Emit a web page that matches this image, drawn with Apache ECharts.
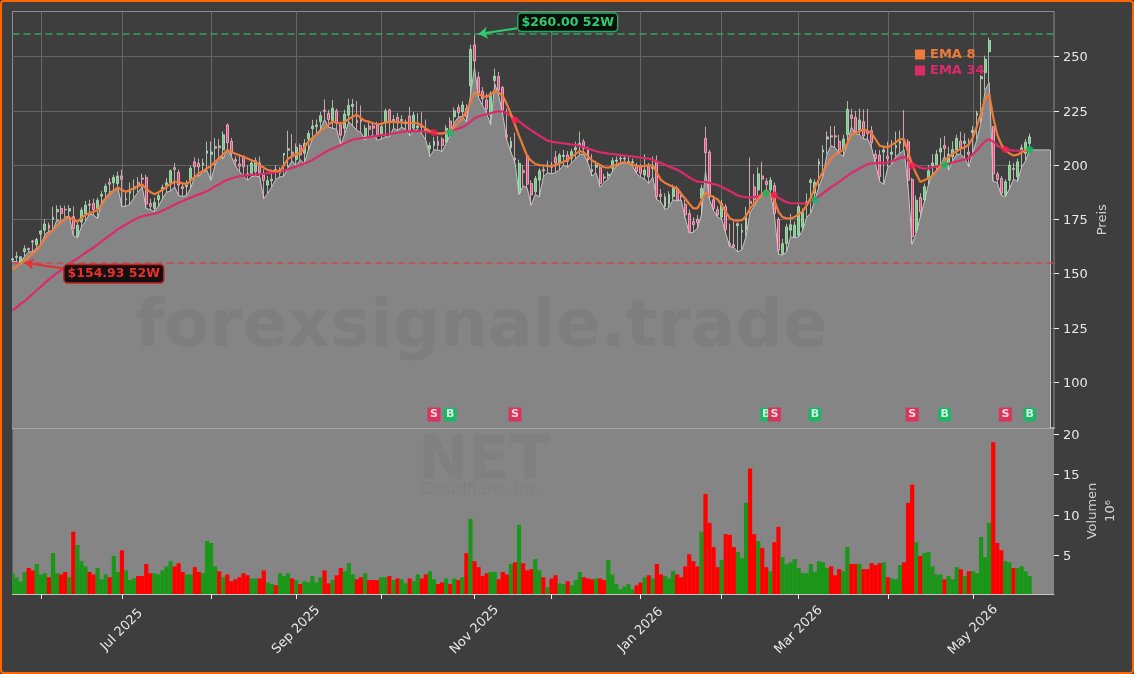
<!DOCTYPE html>
<html>
<head>
<meta charset="utf-8">
<title>NET</title>
<script src="https://cdn.jsdelivr.net/npm/echarts@6/dist/echarts.min.js"></script>
<style>
    html, body { margin: 0; padding: 0; background: #fff; }
    #chart { position: absolute; left: 0; top: 0; width: 1134px; height: 674px; background: #3e3e3e; }
    #frame { position: absolute; left: 0; top: 0; width: 1134px; height: 674px; box-sizing: border-box;
             border: 2px solid #ff6600; border-radius: 4px; pointer-events: none; }
</style>
</head>
<body>
<div id="chart"></div>
<div id="frame"></div>
<script>
// daily candles, one trading day per index
const opens = [
    156.2,157.5,155.2,160.1,161.5,165,163.2,168.3,170,172.3,
    175,178.5,180,179.6,178.8,176.2,167.2,173.8,177.7,182,
    182.3,180,185.7,187.7,192,191.8,191.5,195,184,187,
    189,192,194,194.3,182.3,180,184,188.5,190.6,191.8,
    198.8,196.6,190,190,193,201.5,200.8,200,205.5,205,
    207.8,208.8,207,218.5,211,202.5,200.5,203.5,196,196.2,
    197,201,195.4,190.8,192.8,198,196.2,204.6,206.8,206,
    202.6,209,205.4,212,216.8,217.8,220,225.3,223.8,220.5,
    225,218.5,217,223,227,220.5,221,213,218,218,
    218.5,214.3,220,225.4,220.5,222,220.5,219,222.6,217,
    217.3,218.5,216.5,207.5,209,211,212,211,220.3,222.3,
    226.6,224.6,226,236.5,255.4,240.5,234,230,223,239,
    240.8,235.8,214,208,203.3,187.2,197.5,204.3,191.5,187.7,
    193,198,199.5,200,203.5,200.8,204,204.6,203,207,
    209,210.8,207.7,198,199,198.8,194.5,195,198.5,201.8,
    202.8,202.8,201,201,200,199.2,195.4,200,198.5,201.5,
    186.5,180.8,182,185.4,189.2,186,182,177.7,174,175,
    184.6,212.3,206,184,179.5,176,180.8,164,163.3,172,
    169,170,183.3,190,188.5,195,192.5,188.5,190.5,175,
    159.2,163.8,170,167,167.7,171.5,182,192,187,200.5,
    206,212,213.5,213.5,211,207,214,223,222,216,
    220,215.5,215.8,205,204.6,206,204,205,208,210,
    210,210.8,193.4,170,185,184,193.8,199.5,200,206,
    209,200.8,203.8,207,211,210,206,215,223,239.8,
    242.6,252.3,217.7,195.8,193.8,186.2,193,198.5,194.6,207,205.4,210
];
const closes = [
    156.8,158,157.7,161.4,161,164.5,165.7,169.6,172.8,170.8,
    176,179.5,177.7,179.4,180,170.8,172.3,179.2,181.5,181.5,
    179.5,183.8,186.4,190.3,191.2,194.3,195,193.5,184.5,188,
    190,190,193.5,182,181,182.8,186,189.7,191.8,197.4,
    198,190.8,189.2,190.7,198.5,199.2,199.2,201,206.5,206,
    208.5,208,214,210.3,205.4,201.8,199.5,199.2,195.5,201,
    202,196.5,193,192.8,193.5,197.5,196.9,205.4,207.5,205,
    208.2,204.6,210,214.6,218,218.5,222.8,224.8,221,226.2,
    219.5,213.8,223.5,227.5,228,219.5,220,217,216.5,217,
    214,217.7,225,219.5,221,219.5,221,219.5,215.4,223,
    218,217.5,215.5,209,211,209,209,217,216,225,
    224.2,227.7,222.3,253.4,248,233.4,230.5,225.8,233,241,
    234.6,225.4,213,211,202.3,200.8,196.5,191.2,186.2,193.8,
    197.4,197.3,200,199,201,204.6,204.5,201.8,206.2,208,
    210,207.7,202.3,197,200,191.5,194,195.8,202,202.3,
    203.2,203.2,201.6,201.5,197,196.2,197.7,194.6,199,185.4,
    185.5,185.4,186.5,189.2,183.8,185.4,177,169.2,172.5,173.4,
    189.2,205.7,185.4,180,177,182.3,170.3,163,162.3,173,
    170,177,182.3,184,196,193.5,191,193,177.7,160.8,
    163.8,171.5,172.5,172.3,180.8,178.5,183,193,192,201.5,
    207,213,213,213,207,212,225.7,221.5,215.4,220.8,
    213.4,214.6,210.3,203,194.6,207,203,206,209,211,
    209,193,167,183.8,178.5,190,197.4,201,205,207.7,
    207.7,205,207.2,212.3,208,211,205,216,224,240.8,
    248.8,257.4,196,193.4,187,192.3,200,198,201.5,208,210.5,213
];
const highs = [
    157,160,158,163,162,165.5,166.5,170,175,173.5,
    180.8,181.5,181.5,181.3,181.5,181,173.5,180.5,183.5,184,
    184.5,185,188,191.5,194,195.5,197,198,188,192,
    193.5,194.5,196,195.5,184.5,185,188,191,194,198,
    201,198,192,193,199.5,203.5,203,203,210.8,211,
    212.5,212,215.5,219.2,212.5,204,205,204.5,200,202.8,
    203.5,204,198,195,197.7,200,199,205.5,215.8,214.3,
    210,210,212,216,220.8,221,224.5,230.3,225.5,230,
    226,220,225.5,230.5,230.5,229.5,227.5,218.5,219.5,219.5,
    220,219,226,226,223,224,223,221,226.9,224.5,
    224,224.5,221,210.5,213,213.5,213,218.5,222,226.5,
    228,229.5,228,255.5,260,243,236,233,234,244.5,
    243,236.5,226,213,215,202.5,200,205,193,195,
    198.5,199.5,202,201.5,206.5,205.5,207,206.5,207.5,210.8,
    215.4,212,208.5,205,202,200,196,197,203.5,204,
    205,204.5,204,203,201,200.5,205,201,204,204.5,
    189,187,188,191,190.5,188,184,179.5,176,177,
    191,217.7,207,186,181,184,182,173,174,173.5,
    173,180.8,203.5,196,199,201.5,194,194.5,192,176,
    166,173,177.5,174,182,180,187,194,193.5,203,
    209,215.5,218,218,214,214,229.5,226,225,226,
    225.7,226,218,207,207,208.5,210.8,211.5,215.4,216,
    225.4,212,194,186,187,191.5,200,205,207,212.5,
    213.5,208.5,211,214,215.4,214.6,212.3,218,225,241.5,
    250.5,258.7,218,197,195,193.5,202,201,203,209.5,212,214.5
];
const lows = [
    155.5,155.4,154.93,158,160,160,162,163,168,169.5,
    170,175,173.5,176,176.5,167.5,166.5,171.5,174,177.5,
    177,175.4,183,185,187.5,188.5,189.5,181,181,182,
    185,187.5,190,180,179.5,178.5,181,184.5,187.5,188,
    190,186,185.5,186,189.5,195,195,197,197.5,193,
    200,204,203,207,204,199.8,197,195,193,194.7,
    195,194.5,184.5,187,190,193.5,194.5,195,199,202,
    199.5,202.5,200.7,207,212,214.6,216.5,221,217.5,217,
    216.5,209,214.5,220,218,216,215,211.5,213,214,
    211.5,212,213,213,217,216,217.5,216.5,213.5,216,
    216.5,214.5,211.5,204,207,207,206.2,210,214,219.5,
    222,222.5,220,232,245,231,227.5,224,218.5,237.5,
    232,223,211.5,206,201,186.5,190.5,189.5,181.5,186.5,
    185.4,194.5,196.5,196,196.5,198,200,199,201,203,
    205,205,201,195,196.5,190,192,193.5,197,199.5,
    200.5,201,200.5,199.5,196,194.5,193.5,191.5,194.5,184,
    183,179.5,180.5,184,183.5,184,175.5,168.7,169,171,
    177,197,184,179,176,175,168.5,162.5,162,160,
    161,167,178,181,184,186,187.5,187,177,158.9,
    158.5,160,167,166.5,167,170,176,178,184,190,
    195,205,209,208,205.4,204,209.5,217.5,214.5,214,
    212,212,208,200,192.5,191,199,200.5,204,205.5,
    207,190,163.5,168.7,176,183,191,196,197.5,200,
    204,197.7,202,205,205,203,199.2,206,212,219.5,
    234.6,238,192.5,192,186,185.5,189,193.5,192.5,199,202,207
];
// volume in millions
const volumes = [
    2.75,2.2,1.7,2.9,3.4,3.1,3.9,2.6,2.75,2.25,
    5.25,2.75,2.6,2.9,2.25,7.9,6.25,4.25,3.6,2.9,
    2.6,3.4,2.0,2.6,2.25,4.9,2.9,5.6,3.1,1.9,
    2.1,2.4,2.4,3.9,2.75,2.75,2.6,3.1,3.6,4.25,
    3.6,4.0,2.9,2.6,2.6,3.5,2.9,2.75,6.75,6.5,
    3.6,3.0,2.25,2.6,1.75,2.0,2.25,2.75,2.5,2.1,
    2.1,2.1,3.1,1.6,1.4,1.25,2.75,2.4,2.75,2.1,
    1.9,1.4,1.75,1.6,2.4,1.6,2.25,3.1,1.5,1.9,
    2.5,3.4,3.0,4.0,2.6,2.0,2.25,2.75,1.9,1.9,
    1.9,2.25,2.25,2.4,1.9,2.1,2.0,1.5,2.1,1.75,
    2.6,2.1,2.6,3.0,2.0,1.4,1.6,2.1,1.4,2.1,
    1.9,2.25,5.25,9.5,4.25,3.5,2.4,2.75,2.9,2.9,
    2.0,2.9,2.6,3.9,4.1,8.75,4.0,3.1,3.25,4.5,
    3.1,2.25,1.0,2.1,2.5,1.5,1.4,1.75,1.25,1.9,
    2.9,2.25,2.1,2.0,2.1,2.1,1.9,4.4,2.6,1.4,
    0.75,1.1,1.4,0.75,1.25,1.6,2.25,2.5,2.1,3.9,
    2.6,2.4,2.1,3.0,2.6,2.25,3.6,5.1,4.25,3.6,
    7.9,12.6,9.0,6.0,3.5,4.4,7.6,7.5,6.0,5.4,
    4.6,11.5,15.75,7.6,6.75,5.9,3.5,3.0,6.6,8.5,
    4.75,3.9,4.1,4.5,3.4,2.75,2.75,3.9,2.9,4.25,
    4.1,3.4,3.6,2.5,3.25,3.0,6.0,3.9,3.9,3.9,
    3.25,3.25,4.0,3.75,4.0,4.1,2.25,2.1,2.0,3.75,
    4.1,11.5,13.75,6.6,4.9,5.25,5.4,3.6,2.6,2.6,
    2.0,2.4,2.0,3.5,3.25,2.4,3.0,3.0,2.75,7.25,
    4.75,9.0,19,6.5,5.6,4.25,4.1,3.4,3.4,3.6,3.0,2.4
];
const ema8 = [
    151.8,153.2,154.6,156.2,157.7,159.3,160.8,163.5,166.2,168.2,
    170,172,173.9,175.2,175.9,174.8,173.9,175.5,177,177.8,
    178.5,179.2,181.8,184.6,186.5,188.2,189.7,188.5,187.7,188.5,
    189.4,190.2,191,189,187.6,186.6,187.5,188.5,190,191.3,
    192.3,192,191.6,191.2,193,194.6,196.2,197.3,198.5,199.7,
    201.5,203.2,205,206.9,206.2,205.2,204.5,203.8,203,202.2,
    201.5,200,198.8,197.7,197.4,197.2,197.2,200,203,204,
    205,205.7,208,210.8,212.5,214,215.6,217,218.7,220,
    219.5,219,220,221.2,222.4,223.2,221.6,220.4,220,219.3,
    218.8,219,219.6,220,219.9,219.8,219.7,219.6,219.5,219.4,
    219.3,218.2,216.8,215.7,215,214.6,214.5,215,215.7,217.5,
    219.7,221.5,225,229,233.4,232.8,231.8,231.5,232.5,234.2,
    233.4,231.9,228,223.5,218.5,213.5,208.8,204.2,202,200.5,
    200,199.8,199.6,199.5,200,200.8,201.5,202.5,203.8,205.2,
    206.5,205.8,204,202.2,201,200,199,198.8,199.4,200.2,
    201,201.3,200.8,200.2,199.6,199.4,199.6,199.8,199.9,196.5,
    193.2,191.8,190.8,190,189.2,186.8,184.5,182.2,180,180,
    183.5,187.2,186.2,185.2,184.2,181.5,178.5,175.5,174.5,174.4,
    174.6,176.5,180,182.2,184.5,186.5,188.5,186.5,183.8,178.5,
    176,175.5,175.4,176,177.4,178.7,181.5,185,189.5,193.5,
    197,200,203,204.9,205.9,206.9,210,213.8,214.8,215.6,
    216.4,215.8,214.6,211.8,208.9,208.5,208.2,209.3,210.6,211.9,
    212,206,200.3,196,192.2,193,194,195,197.2,199.7,
    202,203.8,205.2,206.4,207.6,208.2,209.5,212.8,218,224,
    230.5,232.8,222,214,209.5,206.8,205.4,204.4,204.8,205.8,206.9,207.5
];
const ema34 = [
    133,134.4,136,137.3,139,140.7,142.3,144,145.7,147.3,
    148.8,150.2,151.6,153,154.5,155.8,157,158.3,159.6,160.8,
    162,163.3,164.8,166.2,167.6,169,170.5,171.6,172.6,173.7,
    174.8,175.7,176.4,176.8,177.2,177.6,178.1,179,179.9,180.8,
    181.7,182.6,183.4,184.2,185,185.8,186.5,187.2,188,189,
    190.2,191.2,192.4,193.2,193.8,194.4,194.9,195.1,195.3,195.5,
    195.7,195.8,196,196.3,196.5,196.7,196.9,197.5,198.1,198.7,
    199.4,200,200.7,201.4,202.4,203.5,204.6,205.7,206.8,207.6,
    208.4,209.3,210.1,211,211.8,212.1,212.4,212.6,212.9,213.2,
    213.5,213.8,214,214.3,214.6,214.9,215.3,215.5,215.6,215.7,
    215.8,215.6,215.3,215.1,214.9,214.7,214.7,215.2,215.7,216.2,
    216.8,217.5,218.5,220,221.6,222.4,223,223.4,223.9,224.4,
    224.8,224.7,223.9,222.6,221.5,220.1,218.7,217.3,216,214.8,
    213.6,212.5,211.3,210.8,210.5,210.3,210,209.8,209.5,209.3,
    208.8,208.2,207.6,207,206.4,205.9,205.6,205.3,205.1,204.9,
    204.6,204.4,204.2,204,203.7,203.5,203.2,203,202.4,201.6,
    200.9,200.2,199.4,198.6,197.9,196.8,195.6,194.4,193.2,192.4,
    192.2,192.3,191.8,191.2,190.8,190,189,188,187,186,
    185.5,185.2,185,185.3,185.6,186.5,187.7,187,185.8,184.9,
    183.9,182.9,182.5,182.4,182.3,182.3,182.4,183.2,184.2,185.6,
    187,188.4,189.8,191,192.3,193.6,195,196.4,197.4,198.4,
    199.4,200.4,200.8,200.9,201,201,201.2,201.8,202.5,203.2,
    203.8,202.3,200.8,199.8,198.8,198.4,198.6,199,199.4,199.8,
    200.2,200.7,201.2,201.7,202.2,202.6,203.2,205,207,209,
    211,212,210.8,209,208,207.4,207,206.7,206.6,206.6,206.6,206.6
];
// area runs on flat past the last candle
const areaTail = [207, 207, 207, 207, 207];

const monthTickIndex = [7, 27, 49, 70, 91, 114, 133, 155, 175, 194, 216, 237];
const monthTickLabels = ['', 'Jul 2025', '', 'Sep 2025', '', 'Nov 2025', '', 'Jan 2026', '', 'Mar 2026', '', 'May 2026'];
const priceTicks = [100, 125, 150, 175, 200, 225, 250];
const volumeTicks = [5, 10, 15, 20];

const sellIndex = [104, 124, 188, 222, 245];
const sellPrice = [215, 220.8, 186.2, 199.7, 207.2];
const buyIndex = [108, 186, 198, 230, 251];
const buyPrice = [215, 187, 184, 200.2, 207.2];
const signalRowPrice = 85;

const high52w = 260.4;
const low52w = 154.93;
const high52wIndex = 114;
const low52wIndex = 2;

const bgColor = '#3e3e3e';
const areaColor = '#858585';
const gridColor = '#666666';
const textColor = '#e8e8e8';
const fontMain = '"DejaVu Sans", sans-serif';
const orange = '#f07a3a';
const pink = '#dc2a6a';
const sellColor = '#ee1f50';
const buyColor = '#05c05f';

const categoryCount = 258;
const categories = Array.from({ length: categoryCount }, (_, i) => {
    const pos = monthTickIndex.indexOf(i);
    return pos >= 0 ? monthTickLabels[pos] : '';
});

const isMonthTick = (index) => monthTickIndex.includes(index);
const isMonthLabel = (index, value) => value !== '';

const priceMin = 78.8;
const priceMax = 270.8;

// y tick text sits a touch lower than ECharts centres it
const yTickLabel = (ticks) => ({
    customValues: ticks,
    margin: 9,
    formatter: '{t|{value}}',
    rich: { t: { color: textColor, fontSize: 13, fontFamily: fontMain, padding: [3, 0, 0, 0] } }
});

const chart = echarts.init(document.getElementById('chart'));

chart.setOption({
    animation: false,
    backgroundColor: bgColor,
    textStyle: { fontFamily: fontMain },

    legend: {
        left: 915,
        top: 48,
        orient: 'vertical',
        icon: 'rect',
        itemWidth: 10,
        itemHeight: 10,
        itemGap: 3,
        padding: 0,
        selectedMode: false,
        data: [
            { name: 'EMA 8', textStyle: { color: orange, fontWeight: 'bold', fontSize: 13 } },
            { name: 'EMA 34', textStyle: { color: pink, fontWeight: 'bold', fontSize: 13 } }
        ]
    },

    grid: [
        { left: 12.5, top: 11.5, width: 1041.5, height: 416.5, show: true, borderColor: '#8c8c8c', borderWidth: 1, backgroundColor: 'transparent' },
        { left: 12.5, top: 428, width: 1041.5, height: 166, show: true, borderColor: areaColor, borderWidth: 0, backgroundColor: areaColor }
    ],

    xAxis: [
        {
            type: 'category',
            gridIndex: 0,
            data: categories,
            boundaryGap: false,
            axisLine: { show: true, lineStyle: { color: '#a8a8a8', width: 2 } },
            axisTick: { show: false },
            axisLabel: { show: false },
            splitLine: { show: true, interval: isMonthTick, lineStyle: { color: gridColor, width: 1 } }
        },
        {
            type: 'category',
            gridIndex: 1,
            data: categories,
            boundaryGap: false,
            axisLine: { show: true, lineStyle: { color: '#c4c4c4', width: 1 } },
            axisTick: { show: true, interval: isMonthTick, length: 5, lineStyle: { color: '#eeeeee', width: 1 } },
            axisLabel: {
                interval: isMonthLabel,
                rotate: 45,
                align: 'center',
                verticalAlign: 'middle',
                margin: 36,
                color: textColor,
                fontSize: 13,
                fontFamily: fontMain
            },
            splitLine: { show: false }
        }
    ],

    yAxis: [
        {
            type: 'value',
            gridIndex: 0,
            position: 'right',
            min: priceMin,
            max: priceMax,
            name: 'Preis',
            nameLocation: 'middle',
            nameRotate: 90,
            nameGap: 42,
            nameMoveOverlap: false,
            nameTextStyle: { color: '#d0d0d0', fontSize: 13, fontFamily: fontMain },
            axisLine: { show: false },
            axisTick: { show: true, length: 5, customValues: priceTicks, lineStyle: { color: '#eeeeee' } },
            axisLabel: yTickLabel(priceTicks),
            splitLine: { show: true, lineStyle: { color: gridColor, width: 1 } }
        },
        {
            type: 'value',
            gridIndex: 1,
            position: 'right',
            min: 0.17,
            max: 20.78,
            name: 'Volumen\n10⁶',
            nameLocation: 'middle',
            nameRotate: 90,
            nameGap: 30,
            nameMoveOverlap: false,
            nameTextStyle: { color: '#d0d0d0', fontSize: 13, lineHeight: 18, fontFamily: fontMain },
            axisLine: { show: false },
            axisTick: { show: true, length: 5, customValues: volumeTicks, lineStyle: { color: '#eeeeee' } },
            axisLabel: yTickLabel(volumeTicks),
            splitLine: { show: false }
        }
    ],

    graphic: [
        { type: 'text', left: 135, top: 295, z: 2, silent: true, style: { text: 'forexsignale.trade', fill: 'rgba(0,0,0,0.05)', font: 'bold 66.5px "DejaVu Sans"' } },
        { type: 'text', left: 418, top: 433, z: 2, silent: true, style: { text: 'NET', fill: 'rgba(0,0,0,0.035)', font: 'bold 60px "DejaVu Sans"' } },
        { type: 'text', left: 420, top: 482, z: 2, silent: true, style: { text: 'Cloudflare, Inc.', fill: 'rgba(0,0,0,0.04)', font: '16.4px "DejaVu Sans"' } },
        // the first bar and candle are cut at the panel edge
        { type: 'rect', left: 9.5, top: 300, z: 100, silent: true, shape: { width: 2.5, height: 294 }, style: { fill: bgColor } }
    ],

    series: [
        {
            name: 'Tief',
            type: 'line',
            xAxisIndex: 0,
            yAxisIndex: 0,
            z: 1,
            data: lows.concat(areaTail),
            symbol: 'none',
            lineStyle: { color: '#c6c6c6', width: 1 },
            areaStyle: { color: areaColor, opacity: 1, origin: 'start' },
            markLine: {
                silent: true,
                symbol: 'none',
                label: { show: false },
                lineStyle: { color: '#c6c6c6', width: 1, type: 'solid' },
                data: [[{ coord: [256, areaTail[0]] }, { coord: [256, priceMin] }]]
            }
        },
        {
            name: 'Kurs',
            type: 'candlestick',
            xAxisIndex: 0,
            yAxisIndex: 0,
            z: 3,
            barWidth: 2.4,
            data: opens.map((o, i) => [o, closes[i], lows[i], highs[i]]),
            itemStyle: {
                color: '#63d97a',
                color0: '#f4477e',
                borderColor: '#c2dcc6',
                borderColor0: '#e8c0cc',
                borderWidth: 0.8
            },
            markLine: {
                silent: true,
                symbol: 'none',
                label: { show: false },
                data: [
                    { yAxis: high52w, lineStyle: { color: '#34a35e', width: 1.5, type: [7, 4] } },
                    { yAxis: low52w, lineStyle: { color: '#c84a4a', width: 1.5, type: [7, 4] } },
                    [
                        { coord: [125, 263.2], symbol: 'none', lineStyle: { color: '#2ecc71', width: 2, type: 'solid' } },
                        { coord: [high52wIndex + 1, high52w], symbol: 'arrow', symbolSize: 9 }
                    ],
                    [
                        { coord: [13, 152.2], symbol: 'none', lineStyle: { color: '#e8302e', width: 2, type: 'solid' } },
                        { coord: [low52wIndex + 1, low52w], symbol: 'arrow', symbolSize: 9 }
                    ]
                ]
            },
            markPoint: {
                silent: true,
                symbolSize: 0,
                data: [
                    {
                        coord: [137, 265.8],
                        label: {
                            show: true, position: 'inside', formatter: '$260.00 52W',
                            color: '#2ecc71', fontWeight: 'bold', fontSize: 12.5, fontFamily: fontMain,
                            backgroundColor: '#0b0f0c', borderColor: '#27a860', borderWidth: 1.5, borderRadius: 3,
                            padding: [2, 3, 2, 3]
                        }
                    },
                    {
                        coord: [25, 149.9],
                        label: {
                            show: true, position: 'inside', formatter: '$154.93 52W',
                            color: '#e8302e', fontWeight: 'bold', fontSize: 12.5, fontFamily: fontMain,
                            backgroundColor: '#141010', borderColor: '#c42222', borderWidth: 1.5, borderRadius: 3,
                            padding: [2, 3, 2, 3]
                        }
                    }
                ]
            }
        },
        {
            name: 'EMA 34',
            type: 'line',
            xAxisIndex: 0,
            yAxisIndex: 0,
            z: 4,
            data: ema34,
            symbol: 'none',
            itemStyle: { color: pink },
            lineStyle: { color: pink, width: 2.2 }
        },
        {
            name: 'EMA 8',
            type: 'line',
            xAxisIndex: 0,
            yAxisIndex: 0,
            z: 5,
            data: ema8,
            symbol: 'none',
            itemStyle: { color: orange },
            lineStyle: { color: orange, width: 2.2 }
        },
        {
            name: 'Kauf Kreuz',
            type: 'scatter',
            xAxisIndex: 0,
            yAxisIndex: 0,
            z: 6,
            symbolSize: 7,
            itemStyle: { color: buyColor },
            data: buyIndex.map((idx, i) => [idx, buyPrice[i]])
        },
        {
            name: 'Verkauf Kreuz',
            type: 'scatter',
            xAxisIndex: 0,
            yAxisIndex: 0,
            z: 6,
            symbolSize: 7,
            itemStyle: { color: sellColor },
            data: sellIndex.map((idx, i) => [idx, sellPrice[i]])
        },
        {
            name: 'B',
            type: 'scatter',
            xAxisIndex: 0,
            yAxisIndex: 0,
            z: 7,
            symbol: 'roundRect',
            symbolSize: [13, 14],
            itemStyle: { color: buyColor },
            label: { show: true, position: 'inside', formatter: 'B', color: '#ffffff', fontWeight: 'bold', fontSize: 11, fontFamily: fontMain },
            data: buyIndex.map((idx) => [idx, signalRowPrice])
        },
        {
            name: 'S',
            type: 'scatter',
            xAxisIndex: 0,
            yAxisIndex: 0,
            z: 8,
            symbol: 'rect',
            symbolSize: [13, 14],
            itemStyle: { color: sellColor },
            label: { show: true, position: 'inside', formatter: 'S', color: '#ffffff', fontWeight: 'bold', fontSize: 11, fontFamily: fontMain },
            data: sellIndex.map((idx) => [idx, signalRowPrice])
        },
        {
            name: 'Volumen',
            type: 'bar',
            xAxisIndex: 1,
            yAxisIndex: 1,
            barWidth: 4.2,
            data: volumes,
            itemStyle: {
                color: (params) => closes[params.dataIndex] >= opens[params.dataIndex] ? '#1a9618' : '#ff0000'
            }
        }
    ]
});
</script>
</body>
</html>
